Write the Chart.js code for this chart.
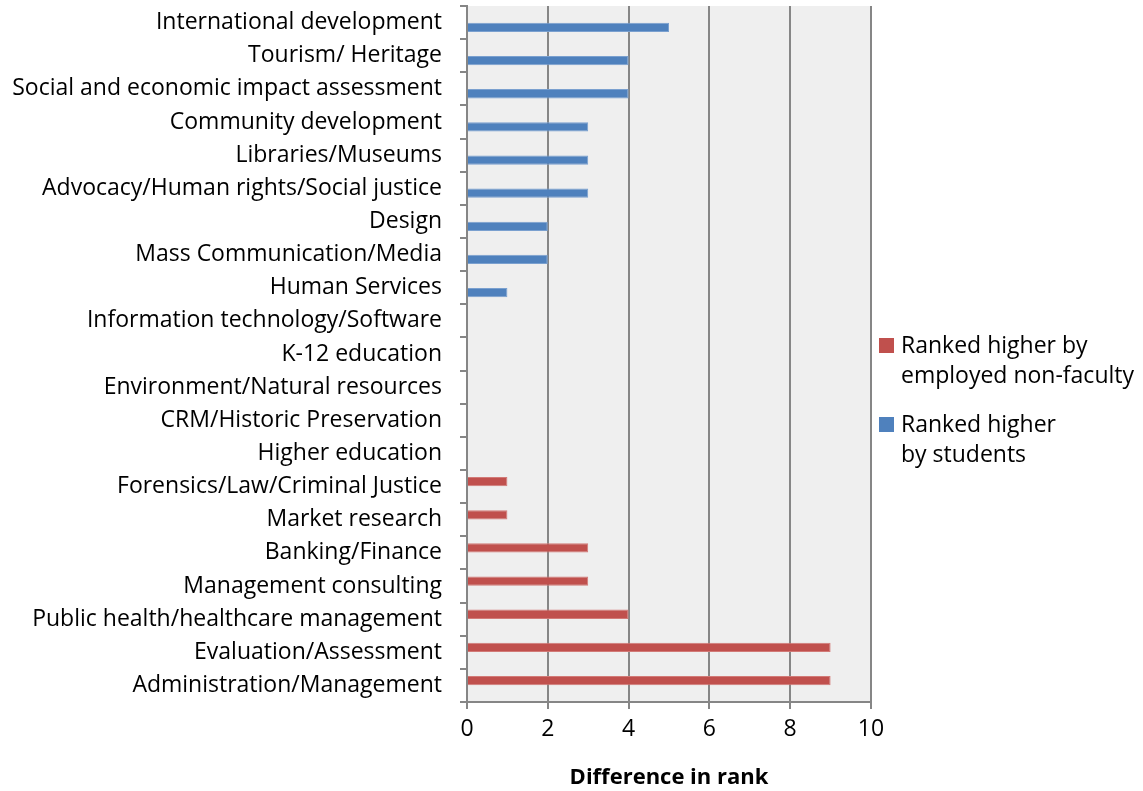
<!DOCTYPE html>
<html>
<head>
<meta charset="utf-8">
<script src="https://cdn.jsdelivr.net/npm/chart.js@4/dist/chart.umd.min.js"></script>
<style>
  html, body { margin: 0; padding: 0; background: #ffffff; }
  #wrap { position: relative; width: 1143px; height: 791px; }
</style>
</head>
<body>
<div id="wrap"><canvas id="c" width="1143" height="791"></canvas></div>
<script>
// Sectors, listed top to bottom
const categories = [
  "International development",
  "Tourism/ Heritage",
  "Social and economic impact assessment",
  "Community development",
  "Libraries/Museums",
  "Advocacy/Human rights/Social justice",
  "Design",
  "Mass Communication/Media",
  "Human Services",
  "Information technology/Software",
  "K-12 education",
  "Environment/Natural resources",
  "CRM/Historic Preservation",
  "Higher education",
  "Forensics/Law/Criminal Justice",
  "Market research",
  "Banking/Finance",
  "Management consulting",
  "Public health/healthcare management",
  "Evaluation/Assessment",
  "Administration/Management"
];

// Difference in rank, per sector
const employedHigher = [null, null, null, null, null, null, null, null, null, 0, 0, 0, 0, 0, 1, 1, 3, 3, 4, 9, 9];
const studentsHigher = [5, 4, 4, 3, 3, 3, 2, 2, 1, 0, 0, 0, 0, 0, null, null, null, null, null, null, null];

const seriesLabels = [
  ["Ranked higher by", "employed non-faculty"],
  ["Ranked higher", "by students"]
];

const xTicks = [0, 2, 4, 6, 8, 10];

const FONT = "'Open Sans', sans-serif";
const GRID = "#868686";

// Grey plot background
const plotBackground = {
  id: "plotBackground",
  beforeDraw(chart) {
    const { ctx, chartArea: a } = chart;
    ctx.save();
    ctx.fillStyle = "#efefef";
    ctx.fillRect(a.left, a.top, a.right - a.left, a.bottom - a.top);
    ctx.restore();
  }
};

// Legend on the right with wrapped labels
const sideLegend = {
  id: "sideLegend",
  afterDraw(chart) {
    const { ctx } = chart;
    ctx.save();
    ctx.font = "23px " + FONT;
    ctx.textBaseline = "middle";
    ctx.textAlign = "left";
    const tops = [346, 425];
    chart.data.datasets.forEach((ds, i) => {
      const y0 = tops[i];
      ctx.fillStyle = ds.backgroundColor;
      ctx.fillRect(879, y0 - 8, 15, 15);
      ctx.fillStyle = "#000000";
      ds.legendLines.forEach((line, j) => {
        ctx.fillText(line, 901, y0 + j * 30);
      });
    });
    ctx.restore();
  }
};

new Chart(document.getElementById("c"), {
  type: "bar",
  data: {
    labels: categories,
    datasets: [
      {
        label: seriesLabels[0].join(" "),
        legendLines: seriesLabels[0],
        data: employedHigher,
        backgroundColor: "#c0504d",
        borderColor: "#d27a77",
        borderWidth: 1,
        categoryPercentage: 0.59,
        barPercentage: 0.95
      },
      {
        label: seriesLabels[1].join(" "),
        legendLines: seriesLabels[1],
        data: studentsHigher,
        backgroundColor: "#4f81bd",
        borderColor: "#7aa0cf",
        borderWidth: 1,
        categoryPercentage: 0.59,
        barPercentage: 0.95
      }
    ]
  },
  options: {
    indexAxis: "y",
    responsive: false,
    animation: false,
    layout: { padding: { top: 6, right: 272, left: 0, bottom: 0 } },
    plugins: {
      legend: { display: false },
      tooltip: { enabled: false }
    },
    scales: {
      x: {
        min: 0,
        max: 10,
        afterBuildTicks(scale) { scale.ticks = xTicks.map(v => ({ value: v })); },
        afterFit(scale) {
          scale.height = 89;
          scale.paddingLeft = 0;
          scale.paddingRight = 0;
        },
        grid: {
          color: GRID,
          lineWidth: 2,
          drawTicks: true,
          tickLength: 7,
          tickColor: GRID
        },
        border: { display: true, color: GRID, width: 2 },
        ticks: {
          color: "#000000",
          font: { family: FONT, size: 23 },
          padding: 7
        },
        title: {
          display: true,
          text: "Difference in rank",
          color: "#000000",
          font: { family: FONT, size: 22, weight: "bold" },
          padding: { top: 8, bottom: 0 }
        }
      },
      y: {
        afterFit(scale) {
          scale.width = 467;
          scale.paddingTop = 0;
          scale.paddingBottom = 0;
        },
        grid: {
          display: true,
          drawOnChartArea: false,
          drawTicks: true,
          tickLength: 7,
          color: GRID,
          lineWidth: 2,
          offset: true
        },
        border: { display: true, color: GRID, width: 2 },
        ticks: {
          color: "#000000",
          font: { family: FONT, size: 23 },
          padding: 18,
          autoSkip: false
        }
      }
    }
  },
  plugins: [plotBackground, sideLegend]
});
</script>
</body>
</html>
